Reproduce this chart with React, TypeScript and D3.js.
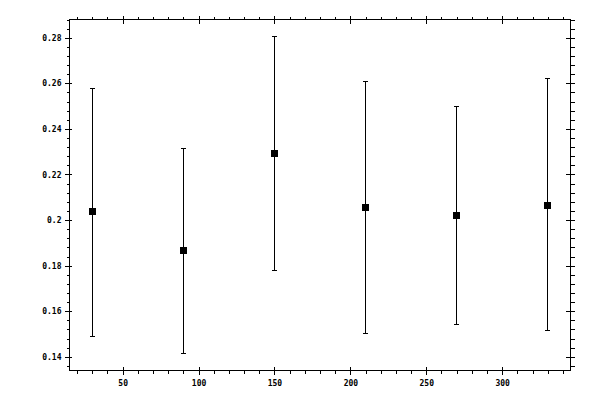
import { useRef, useEffect } from 'react';
import * as d3 from 'd3';

// Sample positions and measured mean with lower/upper error bounds
const xValues = [30, 90, 150, 210, 270, 330];
const means = [0.2036, 0.1865, 0.229, 0.2053, 0.2018, 0.2066];
const lows = [0.1488, 0.1413, 0.1777, 0.1501, 0.154, 0.1514];
const highs = [0.2579, 0.2316, 0.2807, 0.261, 0.25, 0.2619];

const xMajorTicks = [50, 100, 150, 200, 250, 300];
const yMajorTicks = [0.14, 0.16, 0.18, 0.2, 0.22, 0.24, 0.26, 0.28];

export default function App() {
  const svgRef = useRef<SVGSVGElement>(null);

  useEffect(() => {
    if (!svgRef.current) return;
    const width = 600;
    const height = 400;
    const margin = { top: 19, right: 30, bottom: 30, left: 69 };

    const svg = d3.select(svgRef.current);
    svg.selectAll('*').remove();

    const x = d3.scaleLinear().domain([15, 345]).range([margin.left, width - margin.right]);
    const y = d3.scaleLinear().domain([0.134, 0.288]).range([height - margin.bottom, margin.top]);

    const xMinor = d3.range(20, 345, 10).filter(v => v % 50 !== 0);
    const yMinor = d3.range(0, 39).map(i => +(0.136 + i * 0.004).toFixed(3))
      .filter(v => v <= 0.288 && Math.round(v * 1000) % 20 !== 0);

    const g = svg.append('g').attr('transform', 'translate(0.5,0.5)');
    const font = '"DejaVu Sans Mono", monospace';

    // Frame
    g.append('rect')
      .attr('x', x(15))
      .attr('y', y(0.288))
      .attr('width', x(345) - x(15))
      .attr('height', y(0.134) - y(0.288))
      .attr('fill', 'none')
      .attr('stroke', '#000')
      .attr('shape-rendering', 'crispEdges');

    const style = (sel: d3.Selection<SVGGElement, unknown, null, undefined>) => {
      sel.select('.domain').remove();
      sel.selectAll('.tick line').attr('stroke', '#000').attr('shape-rendering', 'crispEdges');
      sel.selectAll('.tick text')
        .attr('fill', '#000')
        .attr('font-family', font)
        .attr('font-weight', 'bold')
        .attr('font-size', '8px');
    };

    const yFmt = (d: d3.NumberValue) => String(+(+d).toFixed(3));

    // Bottom axis
    g.append('g')
      .attr('transform', `translate(0,${y(0.134)})`)
      .call(d3.axisBottom(x).tickValues(xMajorTicks).tickSize(4).tickPadding(6))
      .call(style)
      .call(s => s.selectAll('.tick line').attr('y1', -4));
    g.append('g')
      .attr('transform', `translate(0,${y(0.134)})`)
      .call(d3.axisBottom(x).tickValues(xMinor).tickSize(3).tickFormat(() => ''))
      .call(style);

    // Top axis
    g.append('g')
      .attr('transform', `translate(0,${y(0.288)})`)
      .call(d3.axisTop(x).tickValues(xMajorTicks).tickSize(4).tickFormat(() => ''))
      .call(style)
      .call(s => s.selectAll('.tick line').attr('y1', 4));
    g.append('g')
      .attr('transform', `translate(0,${y(0.288)})`)
      .call(d3.axisTop(x).tickValues(xMinor).tickSize(3).tickFormat(() => ''))
      .call(style);

    // Left axis
    g.append('g')
      .attr('transform', `translate(${x(15)},0)`)
      .call(d3.axisLeft(y).tickValues(yMajorTicks).tickSize(5).tickPadding(3).tickFormat(yFmt))
      .call(style)
      .call(s => s.selectAll('.tick line').attr('x1', 2));
    g.append('g')
      .attr('transform', `translate(${x(15)},0)`)
      .call(d3.axisLeft(y).tickValues(yMinor).tickSize(3).tickFormat(() => ''))
      .call(style);

    // Right axis
    g.append('g')
      .attr('transform', `translate(${x(345)},0)`)
      .call(d3.axisRight(y).tickValues(yMajorTicks).tickSize(4).tickFormat(() => ''))
      .call(style)
      .call(s => s.selectAll('.tick line').attr('x1', -5));
    g.append('g')
      .attr('transform', `translate(${x(345)},0)`)
      .call(d3.axisRight(y).tickValues(yMinor).tickSize(4).tickFormat(() => ''))
      .call(style);

    const idx = d3.range(xValues.length);
    const cap = 2.5;

    // Error bars
    const bars = g.append('g').attr('stroke', '#000').attr('shape-rendering', 'crispEdges');
    bars.selectAll('.stem')
      .data(idx)
      .enter()
      .append('line')
      .attr('x1', i => Math.round(x(xValues[i])))
      .attr('x2', i => Math.round(x(xValues[i])))
      .attr('y1', i => Math.round(y(lows[i])))
      .attr('y2', i => Math.round(y(highs[i])));
    bars.selectAll('.capTop')
      .data(idx)
      .enter()
      .append('line')
      .attr('x1', i => Math.round(x(xValues[i])) - cap)
      .attr('x2', i => Math.round(x(xValues[i])) + cap)
      .attr('y1', i => Math.round(y(highs[i])))
      .attr('y2', i => Math.round(y(highs[i])));
    bars.selectAll('.capBottom')
      .data(idx)
      .enter()
      .append('line')
      .attr('x1', i => Math.round(x(xValues[i])) - cap)
      .attr('x2', i => Math.round(x(xValues[i])) + cap)
      .attr('y1', i => Math.round(y(lows[i])))
      .attr('y2', i => Math.round(y(lows[i])));

    // Mean markers
    const sq = 7;
    g.selectAll('.mark')
      .data(idx)
      .enter()
      .append('rect')
      .attr('x', i => Math.round(x(xValues[i])) - sq / 2)
      .attr('y', i => Math.round(y(means[i])) - sq / 2)
      .attr('width', sq)
      .attr('height', sq)
      .attr('fill', '#000')
      .attr('shape-rendering', 'crispEdges');
  }, []);

  return (
    <div style={{ position: 'absolute', left: 0, top: 0, width: 600, height: 400, background: '#fff' }}>
      <svg ref={svgRef} width={600} height={400} style={{ display: 'block' }} />
    </div>
  );
}
